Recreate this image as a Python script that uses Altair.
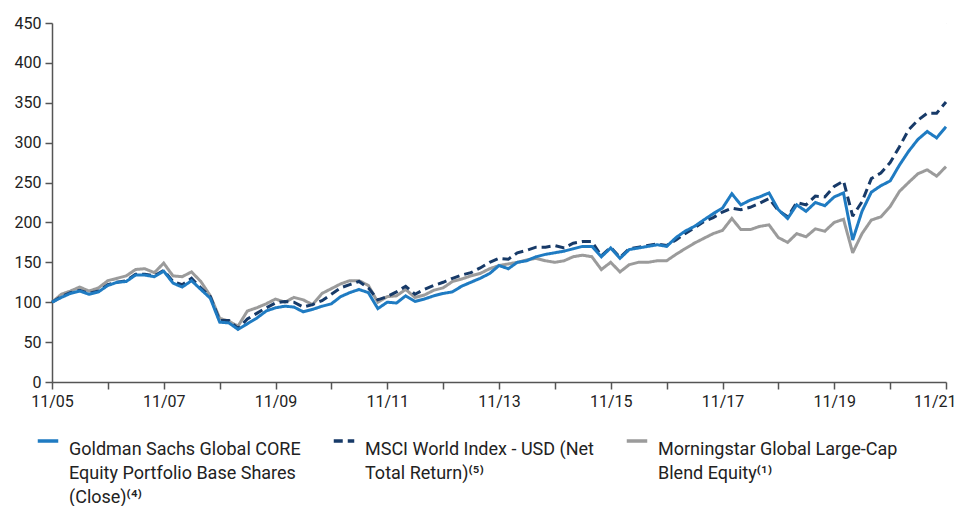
import altair as alt
import pandas as pd

# bi-monthly observations from 11/2005 to 11/2021 (growth of 100)
goldman = [
    100, 106, 111, 114, 110, 113, 121, 125, 126, 134,
    134, 132, 139, 124, 119, 127, 116, 105, 75, 74,
    66, 73, 80, 89, 93, 95, 94, 88, 91, 95,
    98, 107, 112, 116, 112, 92, 100, 99, 108, 101,
    104, 108, 111, 113, 120, 125, 130, 136, 146, 142,
    150, 152, 157, 160, 162, 164, 167, 170, 170, 157,
    168, 155, 166, 168, 170, 172, 170, 181, 189, 195,
    203, 211, 218, 236, 222, 228, 232, 237, 216, 205,
    222, 214, 225, 221, 232, 237, 178, 214, 238, 246,
    252, 272, 289, 304, 314, 306, 320,
]
msci = [
    100, 107, 112, 115, 111, 114, 122, 125, 127, 135,
    135, 133, 140, 126, 122, 130, 118, 107, 77, 77,
    67, 79, 86, 93, 99, 101, 100, 94, 97, 102,
    110, 118, 122, 126, 118, 103, 107, 113, 120, 110,
    116, 121, 125, 130, 134, 137, 143, 150, 155, 154,
    162, 165, 169, 169, 171, 168, 174, 176, 176, 158,
    169, 156, 167, 169, 171, 173, 171, 178, 186, 193,
    201, 206, 213, 218, 216, 219, 224, 230, 215, 207,
    225, 222, 233, 232, 245, 252, 208, 226, 255, 262,
    275, 295, 316, 328, 337, 337, 351,
]
morningstar = [
    100, 110, 114, 119, 114, 118, 127, 130, 133, 141,
    142, 137, 149, 133, 132, 138, 126, 108, 80, 76,
    70, 89, 93, 98, 104, 100, 106, 103, 97, 111,
    117, 123, 127, 127, 121, 100, 107, 108, 116, 106,
    109, 115, 118, 126, 129, 133, 136, 142, 146, 148,
    150, 153, 155, 152, 150, 152, 157, 159, 157, 141,
    150, 138, 147, 150, 150, 152, 152, 160, 167, 174,
    180, 186, 190, 205, 191, 191, 195, 197, 181, 175,
    186, 182, 192, 189, 200, 204, 162, 186, 203, 207,
    220, 239, 250, 261, 266, 258, 270,
]

# "|" separates the lines of each legend label (all padded to three lines)
series_names = [
    "Goldman Sachs Global CORE|Equity Portfolio Base Shares|(Close)⁽⁴⁾",
    "MSCI World Index - USD (Net|Total Return)⁽⁵⁾| ",
    "Morningstar Global Large-Cap|Blend Equity⁽¹⁾| ",
]
series_colors = ["#1f7bc2", "#173a68", "#9b9b9b"]
series_dash = [[1, 0], [9, 5], [1, 0]]

y_ticks = [0, 50, 100, 150, 200, 250, 300, 350, 400, 450]
x_years = list(range(2005, 2022))

dates = pd.date_range("2005-11-01", periods=len(goldman), freq="2MS")

frames = []
# draw order: grey first, then navy, then blue on top
for name, vals, order in [
    (series_names[2], morningstar, 0),
    (series_names[1], msci, 1),
    (series_names[0], goldman, 2),
]:
    frames.append(pd.DataFrame({"date": dates, "value": vals, "series": name, "z": order}))
df = pd.concat(frames, ignore_index=True)

font = "Roboto"
last_label = "year(datum.value) == 2021"

x_axis = alt.Axis(
    values=[alt.DateTime(year=y, month=11, date=1) for y in x_years],
    labelExpr="year(datum.value) % 2 == 1 ? timeFormat(datum.value, '%m/%y') : ''",
    title=None,
    tickSize=7,
    tickColor="#555555",
    tickWidth=1.5,
    domainColor="#555555",
    domainWidth=1.5,
    labelFont=font,
    labelFontSize=16,
    labelColor="#222222",
    labelPadding=4,
    labelFlush=False,
    labelOverlap=False,
    labelAlign={"condition": {"test": last_label, "value": "right"}, "value": "center"},
    labelOffset={"condition": {"test": last_label, "value": 10}, "value": 0},
    gridColor="#ffffff",
    gridWidth=1.5,
    gridOpacity=1,
)
y_axis = alt.Axis(
    values=y_ticks,
    title=None,
    tickSize=7,
    tickColor="#555555",
    tickWidth=1.5,
    domainColor="#555555",
    domainWidth=1.5,
    labelFont=font,
    labelFontSize=16,
    labelColor="#222222",
    labelPadding=4,
    gridColor="#ffffff",
    gridWidth=1.5,
    gridOpacity=1,
)

legend = alt.Legend(
    title=None,
    orient="none",
    legendX=-16,
    legendY=406,
    direction="horizontal",
    columns=3,
    columnPadding=25,
    symbolType="stroke",
    symbolSize=420,
    symbolStrokeWidth=3.5,
    labelFont=font,
    labelFontSize=18,
    labelColor="#222222",
    labelLimit=500,
    labelOffset=9,
    labelBaseline="top",
    labelExpr="split(datum.label, '|')",
)

chart = (
    alt.Chart(df)
    .mark_line(strokeWidth=3, strokeJoin="miter", strokeMiterLimit=2)
    .encode(
        x=alt.X(
            "date:T",
            axis=x_axis,
            scale=alt.Scale(
                domain=[alt.DateTime(year=2005, month=11, date=1), alt.DateTime(year=2021, month=11, date=1)]
            ),
        ),
        y=alt.Y("value:Q", axis=y_axis, scale=alt.Scale(domain=[0, 450], nice=False)),
        color=alt.Color(
            "series:N",
            scale=alt.Scale(domain=series_names, range=series_colors),
            legend=legend,
        ),
        strokeDash=alt.StrokeDash(
            "series:N",
            scale=alt.Scale(domain=series_names, range=series_dash),
            legend=legend,
        ),
        order=alt.Order("z:Q"),
    )
    .properties(
        width=894,
        height=359,
        autosize=alt.AutoSizeParams(type="none"),
        padding={"left": 44, "top": 15, "right": 11, "bottom": 124},
        background="#ffffff",
    )
    .configure_view(fill="#d9dfea", stroke=None)
    .configure(style={"guide-label": {"lineHeight": 24}})
)

chart.save("out.html", embed_options={"renderer": "svg", "actions": False})
